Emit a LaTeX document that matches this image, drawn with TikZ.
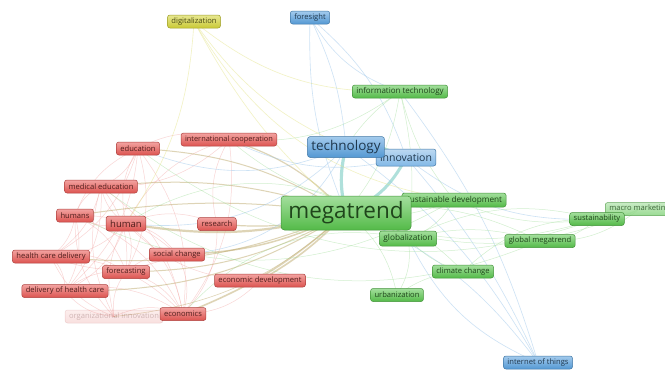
\documentclass[tikz,border=0pt]{standalone}
\usepackage{fontspec}
\setmainfont{Open Sans}
\usetikzlibrary{backgrounds}
\definecolor{kred}{RGB}{232,88,84}
\definecolor{kgreen}{RGB}{88,196,76}
\definecolor{kblue}{RGB}{88,160,222}
\definecolor{kyellow}{RGB}{212,212,56}
\definecolor{emix}{RGB}{190,170,110}
\definecolor{eteal}{RGB}{110,200,190}
\tikzset{
  kw/.style={rounded corners=2.5pt, inner xsep=4pt, inner ysep=0pt, minimum height=13pt,
    font=\fontsize{7.6}{8}\selectfont, line width=0.5pt,
    draw=#1!75!black, top color=#1!55!white, bottom color=#1!95!black, text=#1!35!black},
  er/.style={draw=kred!55!white, opacity=0.45, line width=0.5pt},
  eg/.style={draw=kgreen!60!white, opacity=0.45, line width=0.5pt},
  eb/.style={draw=kblue!60!white, opacity=0.5, line width=0.6pt},
  ey/.style={draw=kyellow!60!white, opacity=0.5, line width=0.6pt},
  em/.style={draw=emix, opacity=0.5, line width=#1},
  et/.style={draw=eteal, opacity=0.55, line width=#1},
}
\begin{document}
\begin{tikzpicture}[x=1pt,y=-1pt]
\useasboundingbox (0,0) rectangle (665,370);

% keyword nodes
\node[kw=kyellow] (dig) at (194,21.5) {digitalization};
\node[kw=kblue] (fore) at (310,17.5) {foresight};
\node[kw=kgreen, font=\fontsize{8}{9}\selectfont] (it) at (400,91.5) {information technology};
\node[kw=kblue, font=\fontsize{10.5}{11}\selectfont, minimum height=17pt, top color=kblue!40!white, bottom color=kblue!75!white] (inno) at (406,157.5) {innovation};
\node[kw=kblue, font=\fontsize{13.5}{14}\selectfont, minimum height=21pt, rounded corners=3pt] (tech) at (346,147) {technology};
\node[kw=kgreen, font=\fontsize{8.2}{9}\selectfont, minimum height=14pt] (sd) at (454,200) {sustainable development};
\node[kw=kgreen, font=\fontsize{22.5}{24}\selectfont, minimum height=34pt, minimum width=130pt, rounded corners=3.5pt] (mega) at (346,213) {megatrend};
\node[kw=kgreen, font=\fontsize{8.3}{9}\selectfont, minimum height=15pt] (glob) at (408,238.5) {globalization};
\node[kw=kgreen] (gm) at (540,241) {global megatrend};
\node[kw=kgreen, top color=kgreen!40!white, bottom color=kgreen!75!white, opacity=0.8, text opacity=0.8, anchor=west] (macro) at (605,209) {macro marketing};
\node[kw=kgreen] (sust) at (597,219) {sustainability};
\node[kw=kgreen] (cc) at (463,271.5) {climate change};
\node[kw=kgreen] (urb) at (397,295) {urbanization};
\node[kw=kblue] (iot) at (538,362.5) {internet of things};

\node[kw=kred, font=\fontsize{7.4}{8}\selectfont] (ic) at (229,139.5) {international cooperation};
\node[kw=kred] (edu) at (138,148.5) {education};
\node[kw=kred] (medu) at (101,186.5) {medical education};
\node[kw=kred] (hums) at (75,215.5) {humans};
\node[kw=kred, font=\fontsize{9.5}{10}\selectfont, minimum height=15pt] (hum) at (126,223.5) {human};
\node[kw=kred] (res) at (217,224) {research};
\node[kw=kred] (hcd) at (51,256.5) {health care delivery};
\node[kw=kred] (sc) at (177,254.5) {social change};
\node[kw=kred] (fc) at (126,272) {forecasting};
\node[kw=kred] (ed) at (260,280.5) {economic development};
\node[kw=kred] (dhc) at (65,291) {delivery of health care};
\node[kw=kred, opacity=0.18, text opacity=0.25] (org) at (114,316.5) {organizational innovation};
\node[kw=kred] (econ) at (183,314) {economics};

\begin{scope}[on background layer]
\fill[white] (0,0) rectangle (665,370);
% red cluster links
\foreach \a/\b in {hum/hums, hum/edu, hum/medu, hum/hcd, hum/dhc, hum/fc, hum/econ, hum/sc,
  hum/res, hum/ic, hums/medu, hums/edu, hums/hcd, hums/dhc, hums/fc, hums/econ, edu/medu,
  edu/ic, hcd/dhc, hcd/fc, fc/econ, fc/sc, dhc/econ, org/econ, org/hum, org/dhc, org/hcd,
  sc/econ, ed/econ, ed/hum, res/ic, medu/hcd, medu/dhc, medu/econ, edu/hcd, edu/dhc,
  edu/econ, hcd/econ, dhc/fc, org/fc, org/hums, org/medu, ic/econ, ic/medu, sc/hcd, res/econ,
  medu/fc, edu/fc, hums/sc}
  \draw[er] (\a.center) to[bend left=22] (\b.center);
% red keywords tied to megatrend
\draw[em=2.2pt] (mega.center) to[bend left=12] (hum.center);
\draw[em=1.6pt] (mega.center) to[bend left=10] (econ.center);
\draw[em=1.6pt] (mega.center) to[bend left=8] (ed.center);
\draw[em=1.5pt] (mega.center) to[bend left=12] (sc.center);
\draw[em=1.2pt] (mega.center) to[bend left=10] (res.center);
\draw[em=1.2pt] (mega.center) to[bend right=14] (ic.center);
\draw[em=1pt] (mega.center) to[bend right=14] (edu.center);
\draw[em=1pt] (mega.center) to[bend right=12] (medu.center);
\draw[em=1pt] (mega.center) to[bend right=8] (hums.center);
\draw[em=1pt] (mega.center) to[bend left=14] (hcd.center);
\draw[em=1pt] (mega.center) to[bend left=16] (dhc.center);
\draw[em=1pt] (mega.center) to[bend left=14] (fc.center);
\draw[em=0.6pt] (mega.center) to[bend left=18] (org.center);
% technology and innovation
\draw[et=3.2pt] (mega.center) to[bend left=14] (tech.center);
\draw[et=3pt] (mega.center) to[bend right=20] (inno.center);
\draw[et=1.2pt] (tech.center) to[bend left=20] (inno.center);
% blue links
\foreach \a/\b/\c in {fore/inno/15, fore/mega/-12, fore/tech/10, iot/tech/-12, iot/mega/-15,
  iot/it/-10, iot/inno/-8, fore/it/-20, iot/glob/20, tech/edu/22, tech/hum/25, inno/ic/20,
  tech/sc/30, inno/sust/-20}
  \draw[eb] (\a.center) to[bend left=\c] (\b.center);
% green links
\foreach \a/\b/\c in {mega/glob/20, mega/sd/-15, mega/cc/20, mega/urb/20, mega/gm/18,
  mega/sust/-18, mega/macro/-22, mega/it/-15, sd/sust/-15, glob/gm/15, gm/sust/-20,
  cc/glob/15, urb/glob/-20, sust/macro/-15, gm/macro/-20, it/glob/10, it/sd/-12, glob/sust/20,
  cc/sust/22, urb/cc/15, it/tech/-10, sd/glob/20, hum/glob/35, econ/glob/30, ic/sd/-25,
  edu/sust/-28, medu/gm/-30, hums/sd/-28, it/ic/20}
  \draw[eg] (\a.center) to[bend left=\c] (\b.center);
% digitalization links
\foreach \a/\b/\c in {dig/mega/-10, dig/sd/-25, dig/tech/-15, dig/hum/15, dig/it/-20}
  \draw[ey] (\a.center) to[bend left=\c] (\b.center);
\end{scope}
\end{tikzpicture}
\end{document}
